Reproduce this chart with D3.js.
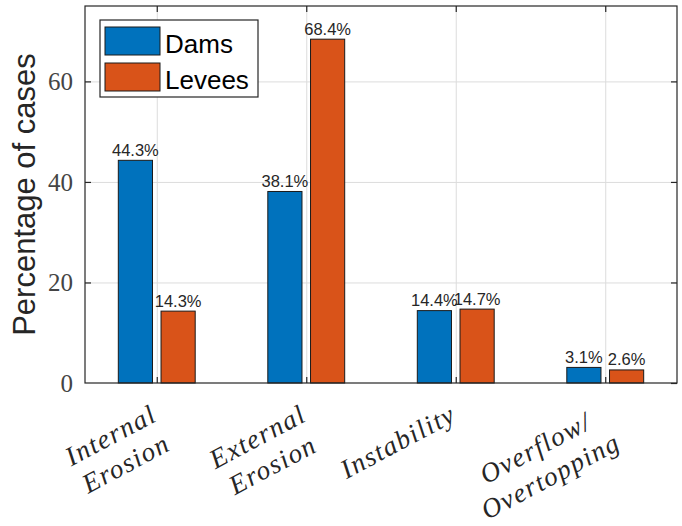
<!DOCTYPE html>
<html><head><meta charset="utf-8">
<script src="https://cdn.jsdelivr.net/npm/d3@7"></script>
<style>body{margin:0;background:#fff;overflow:hidden}</style>
</head><body><svg id="chart" width="682" height="526"></svg>
<script>
const categories = [["Internal","Erosion"],["External","Erosion"],["Instability"],["Overflow/","Overtopping"]];
const seriesNames = ["Dams","Levees"];
const dams = [44.3, 38.1, 14.4, 3.1];
const levees = [14.3, 68.4, 14.7, 2.6];
const yTicks = [0, 20, 40, 60];
const xTicks = [1, 2, 3, 4];
const colors = ["#0072BD", "#D95319"];

const series = [dams, levees];
const svg = d3.select("#chart");
const L = 85, R = 677, T = 6, B = 383;
const x = d3.scaleLinear().domain([0.52, 4.48]).range([L, R]);
const y = d3.scaleLinear().domain([0, 75]).range([B, T]);
const axisColor = "#262626";

svg.append("rect").attr("x", L).attr("y", T).attr("width", R - L).attr("height", B - T).attr("fill", "#fff");

// grid
const gridX = svg.append("g").attr("transform", `translate(0,${B})`)
  .call(d3.axisBottom(x).tickValues(xTicks).tickSize(-(B - T)).tickFormat(""));
const gridY = svg.append("g").attr("transform", `translate(${L},0)`)
  .call(d3.axisLeft(y).tickValues(yTicks.filter(d => d > 0)).tickSize(-(R - L)).tickFormat(""));
[gridX, gridY].forEach(g => {
  g.select(".domain").remove();
  g.selectAll(".tick line").attr("stroke", "#dcdcdc").attr("stroke-width", 1);
});

// bars
const groupW = Math.min(0.8, series.length / (series.length + 1.5));
const barW = groupW / series.length * 0.8;
const offsets = series.map((s, j) => (j - (series.length - 1) / 2) * groupW / series.length);

series.forEach((vals, j) => {
  const g = svg.append("g");
  g.selectAll("rect").data(vals).join("rect")
    .attr("x", (d, i) => x(xTicks[i] + offsets[j] - barW / 2))
    .attr("width", x(barW) - x(0))
    .attr("y", d => y(d))
    .attr("height", d => y(0) - y(d))
    .attr("fill", colors[j])
    .attr("stroke", "#1a1a1a").attr("stroke-width", 1);
  g.selectAll("text").data(vals).join("text")
    .attr("x", (d, i) => x(xTicks[i] + offsets[j]))
    .attr("y", d => y(d) - 4.5)
    .attr("text-anchor", "middle")
    .attr("font-family", "Liberation Sans, Arial, sans-serif")
    .attr("font-size", 16.5)
    .attr("fill", axisColor)
    .text(d => d.toFixed(1) + "%");
});

// frame
svg.append("rect").attr("x", L).attr("y", T).attr("width", R - L).attr("height", B - T)
  .attr("fill", "none").attr("stroke", axisColor).attr("stroke-width", 1.2);

function styleAxis(g) {
  g.select(".domain").remove();
  g.selectAll(".tick line").attr("stroke", axisColor).attr("stroke-width", 1.2);
}
svg.append("g").attr("transform", `translate(0,${B})`)
  .call(d3.axisBottom(x).tickValues(xTicks).tickSize(-6).tickFormat("")).call(styleAxis);
svg.append("g").attr("transform", `translate(0,${T})`)
  .call(d3.axisTop(x).tickValues(xTicks).tickSize(-6).tickFormat("")).call(styleAxis);
svg.append("g").attr("transform", `translate(${R},0)`)
  .call(d3.axisRight(y).tickValues(yTicks).tickSize(-6).tickFormat("")).call(styleAxis);
const yAxis = svg.append("g").attr("transform", `translate(${L},0)`)
  .call(d3.axisLeft(y).tickValues(yTicks).tickSize(-6).tickPadding(12)).call(styleAxis);
yAxis.selectAll(".tick text")
  .attr("font-family", "Liberation Serif, serif")
  .attr("font-size", 25)
  .attr("fill", "#444")
  .attr("dy", "0.34em");
yAxis.selectAll(".tick").filter(d => d === 0).select("line").remove();

// x tick labels (rotated, multi-line centered, block right-aligned)
const lineH = 32;
categories.forEach((lines, i) => {
  const g = svg.append("g")
    .attr("transform", `translate(${x(xTicks[i]) + 2},420) rotate(-28)`);
  const texts = lines.map((ln, k) => g.append("text")
    .attr("y", k * lineH)
    .attr("text-anchor", "middle")
    .attr("font-family", "Liberation Serif, serif")
    .attr("font-style", "italic")
    .attr("font-size", 27)
    .attr("letter-spacing", 1.5)
    .attr("fill", axisColor)
    .text(ln));
  const W = d3.max(texts, t => t.node().getComputedTextLength());
  texts.forEach(t => t.attr("x", -W / 2));
});

// y label
svg.append("text")
  .attr("transform", `translate(35,${(T + B) / 2}) rotate(-90)`)
  .attr("text-anchor", "middle")
  .attr("font-family", "Liberation Sans, Arial, sans-serif")
  .attr("font-size", 31)
  .attr("fill", axisColor)
  .text("Percentage of cases");

// legend
const lg = svg.append("g");
lg.append("rect").attr("x", 100).attr("y", 20).attr("width", 158).attr("height", 77)
  .attr("fill", "#fff").attr("stroke", axisColor).attr("stroke-width", 1.2);
seriesNames.forEach((name, j) => {
  lg.append("rect").attr("x", 105).attr("y", 27 + j * 36).attr("width", 55).attr("height", 28)
    .attr("fill", colors[j]).attr("stroke", "#1a1a1a").attr("stroke-width", 1);
  lg.append("text").attr("x", 165).attr("y", 53 + j * 35.5)
    .attr("font-family", "Liberation Sans, Arial, sans-serif")
    .attr("font-size", 26)
    .attr("fill", "#000")
    .text(name);
});
</script></body></html>
